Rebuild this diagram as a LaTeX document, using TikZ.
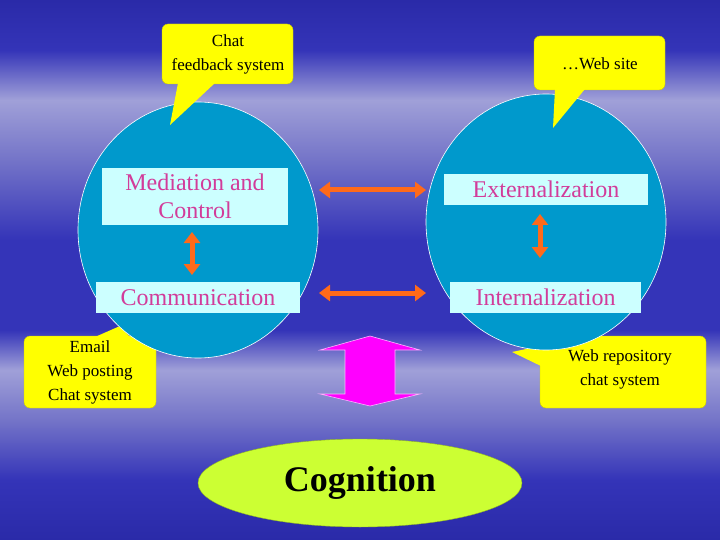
\documentclass[tikz,border=0pt]{standalone}
\usepackage{fontspec}
\setmainfont{Liberation Serif}
\usetikzlibrary{shapes.geometric,arrows.meta}
\definecolor{circ}{HTML}{0099CC}
\definecolor{boxc}{HTML}{CCFFFF}
\definecolor{lab}{HTML}{D23C9A}
\definecolor{orng}{HTML}{FF6A1A}
\definecolor{mag}{HTML}{FF00FF}
\definecolor{cog}{HTML}{CCFF33}
\definecolor{ylw}{HTML}{FFFF00}
\definecolor{bgA}{HTML}{2A2AA8}
\definecolor{bgB}{HTML}{A0A0D8}
\definecolor{bgC}{HTML}{3434B8}
\definecolor{bgD}{HTML}{7474C8}
\pgfdeclareverticalshading{sky}{100bp}{
 color(0bp)=(bgA); color(25bp)=(bgA); color(30.56bp)=(bgC); color(36.11bp)=(bgD); color(40.74bp)=(bgB);
 color(44.44bp)=(bgC); color(52.78bp)=(bgC); color(60.19bp)=(bgD); color(65.74bp)=(bgB);
 color(70.37bp)=(bgC); color(75bp)=(bgA); color(100bp)=(bgA)}
\tikzset{
 circ/.style={ellipse, fill=circ, draw=white, line width=0.6pt},
 lbox/.style={fill=boxc, text=lab, font=\fontsize{24}{28}\selectfont, align=center, inner sep=0pt},
 callt/.style={font=\fontsize{17}{24}\selectfont, align=center, text=black},
 yl/.style={fill=ylw, draw=ylw!80!black, line width=0.4pt, rounded corners=6pt},
 oarr/.style={orng, line width=5pt, {Triangle[width=16pt,length=11pt]}-{Triangle[width=16pt,length=11pt]}}
}
\begin{document}
\begin{tikzpicture}[x=1pt,y=-1pt]
\useasboundingbox (0,0) rectangle (720,540);
\shade[shading=sky] (0,0) rectangle (720,540);
% bottom callouts (behind circles)
\path[yl] (24,336) -- (156,336) -- (156,408) -- (24,408) -- cycle;
\fill[ylw] (95,337) -- (120,326) -- (130,337) -- cycle;
\path[yl] (540,336) -- (706,336) -- (706,408) -- (540,408) -- cycle;
\fill[ylw] (545,345) -- (512,352) -- (545,368) -- cycle;
\node[callt] (email) at (90,372) {Email\\Web posting\\Chat system};
\node[callt] (webrep) at (620,369) {Web repository\\chat system};
% circles
\node[circ, minimum width=240pt, minimum height=256pt] (L) at (198,230) {};
\node[circ, minimum width=240pt, minimum height=256pt] (R) at (546,222) {};
% top callouts
\path[yl] (162,24) -- (293,24) -- (293,84) -- (162,84) -- cycle;
\fill[ylw] (178,83) -- (170,125) -- (215,83) -- cycle;
\node[callt] (chat) at (228,54) {Chat\\feedback system};
\path[yl] (534,36) -- (665,36) -- (665,90) -- (534,90) -- cycle;
\fill[ylw] (555,89) -- (553,128) -- (585,89) -- cycle;
\node[callt] (web) at (600,64) {\ldots Web site};
% label boxes
\node[lbox, minimum width=186pt, minimum height=57pt] (med) at (195,196.5) {Mediation and\\Control};
\node[lbox, minimum width=204pt, minimum height=31pt] (com) at (198,297.5) {Communication};
\node[lbox, minimum width=204pt, minimum height=31pt] (ext) at (546,189.5) {Externalization};
\node[lbox, minimum width=191pt, minimum height=31pt] (int) at (545.5,297.5) {Internalization};
% orange arrows
\coordinate (h1a) at (319,190); \coordinate (h1b) at (426,190);
\coordinate (h2a) at (319,293); \coordinate (h2b) at (426,293);
\coordinate (v1a) at (192,232); \coordinate (v1b) at (192,275);
\coordinate (v2a) at (540,214); \coordinate (v2b) at (540,258);
\draw[oarr] (h1a) -- (h1b);
\draw[oarr] (h2a) -- (h2b);
\draw[oarr] (v1a) -- (v1b);
\draw[oarr] (v2a) -- (v2b);
% cognition
\node[ellipse, fill=cog, draw=cog!70!black, line width=0.4pt, minimum width=324pt, minimum height=88pt,
 font=\fontsize{36}{36}\selectfont\bfseries] (cogn) at (360,483) {Cognition};
% magenta double arrow
\fill[mag, draw=white!70!mag, line width=0.6pt] (370,336) -- (420,350) -- (395,350) -- (395,394) -- (420,394)
 -- (370,406) -- (320,394) -- (345,394) -- (345,350) -- (320,350) -- cycle;
\end{tikzpicture}
\end{document}
